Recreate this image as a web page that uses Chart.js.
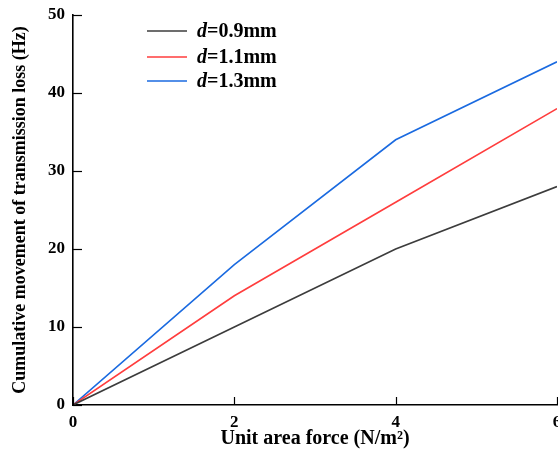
<!DOCTYPE html>
<html>
<head>
<meta charset="utf-8">
<script src="https://cdn.jsdelivr.net/npm/chart.js@4/dist/chart.umd.min.js"></script>
<style>
  html, body { margin: 0; padding: 0; background: #ffffff; }
  #wrap { width: 558px; height: 452px; position: relative; }
</style>
</head>
<body>
<div id="wrap"><canvas id="c" width="558" height="452"></canvas></div>
<script>
// ---- data ----
const forceValues = [0, 2, 4, 6];
const series09 = [0, 10, 20, 28];
const series11 = [0, 14, 26, 38];
const series13 = [0, 18, 34, 44];
const seriesNames = ['0.9mm', '1.1mm', '1.3mm'];
const xTickValues = [0, 2, 4, 6];
const yTickValues = [0, 10, 20, 30, 40, 50];
const xTitle = 'Unit area force (N/m\u00B2)';
const yTitle = 'Cumulative movement of transmission loss (Hz)';

const colors = ['#3c3c3c', '#ff3d3d', '#1a6ae0'];
const FONT = '"Liberation Serif", "Times New Roman", serif';

function toPoints(vals) { return forceValues.map((x, i) => ({ x: x, y: vals[i] })); }

const allSeries = [series09, series11, series13];
const datasets = allSeries.map((s, i) => ({
  label: seriesNames[i],
  data: toPoints(s),
  borderColor: colors[i],
  backgroundColor: colors[i],
  borderWidth: 1.6,
  pointRadius: 0,
  tension: 0,
  fill: false
}));

// inward ticks + custom legend with italic "d"
const decorPlugin = {
  id: 'decor',
  afterDraw(chart) {
    const ctx = chart.ctx;
    const xs = chart.scales.x;
    const ys = chart.scales.y;
    ctx.save();
    ctx.strokeStyle = '#000';
    ctx.lineWidth = 1.2;
    xTickValues.forEach(v => {
      const px = Math.round(xs.getPixelForValue(v)) + 0.5;
      ctx.beginPath();
      ctx.moveTo(px, ys.bottom);
      ctx.lineTo(px, ys.bottom - 8);
      ctx.stroke();
    });
    yTickValues.forEach(v => {
      const py = Math.round(ys.getPixelForValue(v)) + 0.5;
      ctx.beginPath();
      ctx.moveTo(xs.left, py);
      ctx.lineTo(xs.left + 9, py);
      ctx.stroke();
    });
    // legend
    const lx0 = 147, lx1 = 187, tx = 197;
    const rows = [31, 57, 81];
    chart.data.datasets.forEach((ds, i) => {
      const y = rows[i];
      ctx.strokeStyle = ds.borderColor;
      ctx.lineWidth = 1.6;
      ctx.beginPath();
      ctx.moveTo(lx0, y);
      ctx.lineTo(lx1, y);
      ctx.stroke();
      ctx.fillStyle = '#000';
      ctx.textBaseline = 'middle';
      ctx.textAlign = 'left';
      ctx.font = 'italic bold 20px ' + FONT;
      ctx.fillText('d', tx, y + 1);
      const w = ctx.measureText('d').width;
      ctx.font = 'bold 20px ' + FONT;
      ctx.fillText('=' + ds.label, tx + w, y + 1);
    });
    ctx.restore();
  }
};

new Chart(document.getElementById('c'), {
  type: 'line',
  data: { datasets: datasets },
  plugins: [decorPlugin],
  options: {
    responsive: false,
    animation: false,
    devicePixelRatio: 1,
    layout: { padding: { top: 15, right: 1, bottom: 0, left: 0 } },
    plugins: { legend: { display: false }, tooltip: { enabled: false }, title: { display: false } },
    scales: {
      x: {
        type: 'linear',
        min: 0, max: 6,
        afterBuildTicks(scale) { scale.ticks = xTickValues.map(v => ({ value: v })); },
        afterFit(scale) { scale.height = 47; scale.paddingLeft = 0; scale.paddingRight = 0; },
        border: { display: true, color: '#000', width: 1.6 },
        grid: { display: true, drawOnChartArea: false, drawTicks: false },
        ticks: {
          color: '#000', padding: 7, maxRotation: 0,
          font: { family: FONT, size: 17, weight: 'bold' }
        },
        title: {
          display: true, text: xTitle, color: '#000',
          font: { family: FONT, size: 20, weight: 'bold' },
          padding: { top: 0, bottom: 1 }
        }
      },
      y: {
        type: 'linear',
        min: 0, max: 50,
        afterBuildTicks(scale) { scale.ticks = yTickValues.map(v => ({ value: v })); },
        afterFit(scale) { scale.width = 73; scale.paddingTop = 0; scale.paddingBottom = 0; },
        border: { display: true, color: '#000', width: 1.6 },
        grid: { display: true, drawOnChartArea: false, drawTicks: false },
        ticks: {
          color: '#000', padding: 8,
          font: { family: FONT, size: 17, weight: 'bold' }
        },
        title: {
          display: true, text: yTitle, color: '#000',
          font: { family: FONT, size: 18, weight: 'bold' },
          padding: { top: 10, bottom: 0 }
        }
      }
    }
  }
});
</script>
</body>
</html>
